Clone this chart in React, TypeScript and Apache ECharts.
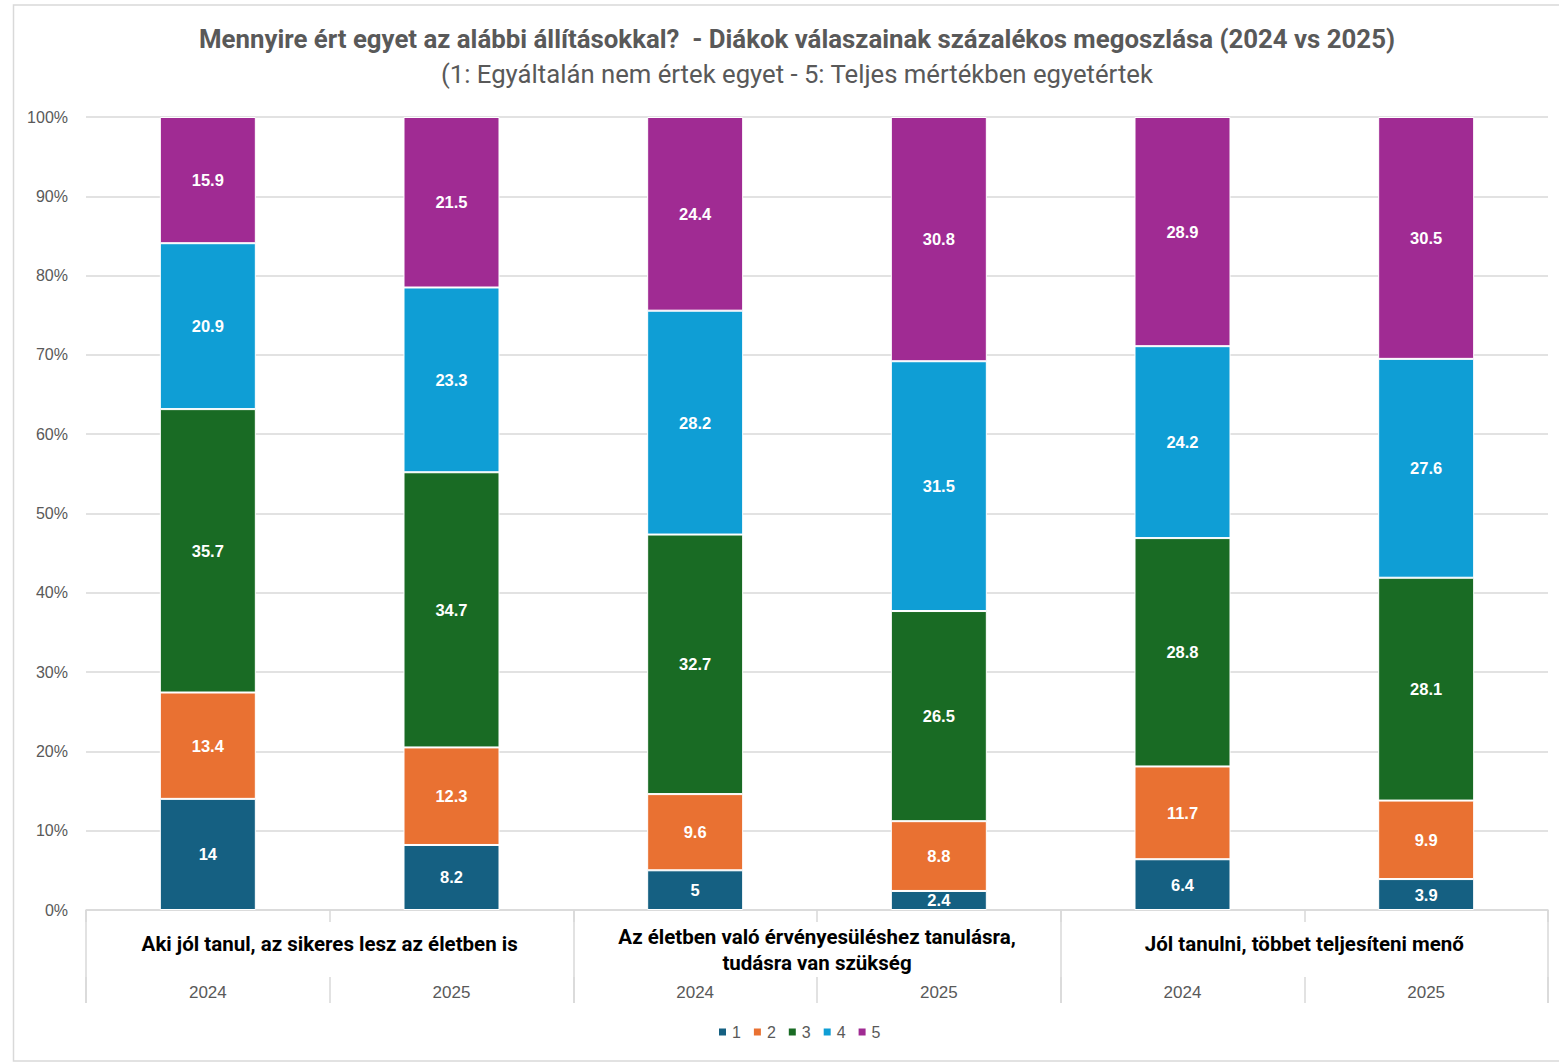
import React, { useEffect, useRef } from "react";
import * as echarts from "echarts";

const groups = [
  "Aki jól tanul, az sikeres lesz az életben is",
  "Az életben való érvényesüléshez tanulásra,\ntudásra van szükség",
  "Jól tanulni, többet teljesíteni menő",
];
const years = ["2024", "2025", "2024", "2025", "2024", "2025"];
const seriesNames = ["1", "2", "3", "4", "5"];
const s1 = [14, 8.2, 5, 2.4, 6.4, 3.9];
const s2 = [13.4, 12.3, 9.6, 8.8, 11.7, 9.9];
const s3 = [35.7, 34.7, 32.7, 26.5, 28.8, 28.1];
const s4 = [20.9, 23.3, 28.2, 31.5, 24.2, 27.6];
const s5 = [15.9, 21.5, 24.4, 30.8, 28.9, 30.5];
const colors = ["#156082", "#E97132", "#196B24", "#0F9ED5", "#A02B93"];

const titleText =
  "Mennyire ért egyet az alábbi állításokkal?  - Diákok válaszainak százalékos megoszlása (2024 vs 2025)";
const subText = "(1: Egyáltalán nem értek egyet - 5: Teljes mértékben egyetértek";

export default function App() {
  const ref = useRef<HTMLDivElement>(null);
  useEffect(() => {
    if (!ref.current) return;
    const chart = echarts.init(ref.current, null, { renderer: "svg" });
    const all = [s1, s2, s3, s4, s5];
    const sums = years.map((_, i) => all.reduce((a, s) => a + s[i], 0));
    const font = "Roboto, 'Liberation Sans', sans-serif";
    const series = all.map((s, k) => ({
      name: seriesNames[k],
      type: "bar",
      stack: "total",
      barWidth: 96,
      data: s.map((v, i) => ({ value: (v / sums[i]) * 100, raw: v })),
      itemStyle: { color: colors[k], borderColor: "#ffffff", borderWidth: 1 },
      label: {
        show: true,
        position: "inside",
        color: "#ffffff",
        fontWeight: "bold",
        fontSize: 16.5,
        fontFamily: "'Liberation Sans', Arial, sans-serif",
        formatter: (p: any) => String(p.data.raw),
      },
    }));
    const groupData = groups.map((g) => ({
      value: g,
      textStyle: g.includes("\n") ? {} : { padding: [7, 0, 0, 0] },
    }));
    chart.setOption({
      animation: false,
      backgroundColor: "#ffffff",
      color: colors,
      title: [
        {
          text: titleText,
          left: 792,
          top: 21,
          textAlign: "center",
          textStyle: { fontFamily: font, fontSize: 25.8, fontWeight: "bold", color: "#595959" },
        },
        {
          text: subText,
          left: 792,
          top: 56,
          textAlign: "center",
          textStyle: { fontFamily: font, fontSize: 25.7, fontWeight: "normal", color: "#595959" },
        },
      ],
      legend: {
        bottom: 17,
        left: 712,
        icon: "rect",
        itemWidth: 9,
        itemHeight: 9,
        itemGap: 11,
        textStyle: { fontFamily: "'Liberation Sans', Arial", fontSize: 16, color: "#595959" },
        data: seriesNames,
      },
      grid: { left: 86, right: 11, top: 117, bottom: 152 },
      xAxis: [
        {
          type: "category",
          data: years,
          position: "bottom",
          axisLine: { show: true, lineStyle: { color: "#d9d9d9", width: 1.5 } },
          axisTick: { show: true, length: 12, interval: 0, lineStyle: { color: "#d9d9d9", width: 1.5 } },
          axisLabel: {
            interval: 0,
            margin: 74,
            fontFamily: "'Liberation Sans', Arial",
            fontSize: 17,
            color: "#595959",
          },
        },
        {
          type: "category",
          data: groupData,
          position: "bottom",
          axisLine: { show: false },
          axisTick: { show: true, length: 93, interval: 0, lineStyle: { color: "#d9d9d9", width: 1.5 } },
          axisLabel: {
            interval: 0,
            margin: 14,
            fontFamily: font,
            fontSize: 20.5,
            fontWeight: "bold",
            color: "#000000",
            lineHeight: 26,
          },
        },
        {
          type: "category",
          data: years,
          position: "bottom",
          offset: 67,
          axisLine: { show: false },
          axisTick: { show: true, length: 26, interval: 0, lineStyle: { color: "#d9d9d9", width: 1.5 } },
          axisLabel: { show: false },
        },
      ],
      yAxis: {
        type: "value",
        min: 0,
        max: 100,
        interval: 10,
        axisLine: { show: false },
        axisTick: { show: false },
        splitLine: { lineStyle: { color: "#d9d9d9", width: 1.5 } },
        axisLabel: {
          formatter: "{value}%",
          margin: 18,
          fontFamily: "'Liberation Sans', Arial",
          fontSize: 16,
          color: "#595959",
        },
      },
      graphic: [
        {
          type: "rect",
          shape: { x: 13.5, y: 5, width: 1560, height: 1056 },
          style: { fill: "none", stroke: "#d9d9d9", lineWidth: 1.5 },
          silent: true,
        },
      ],
      series,
    });
    return () => chart.dispose();
  }, []);
  return (
    <div
      ref={ref}
      style={{ position: "fixed", left: 0, top: 0, width: 1559, height: 1062 }}
    />
  );
}
